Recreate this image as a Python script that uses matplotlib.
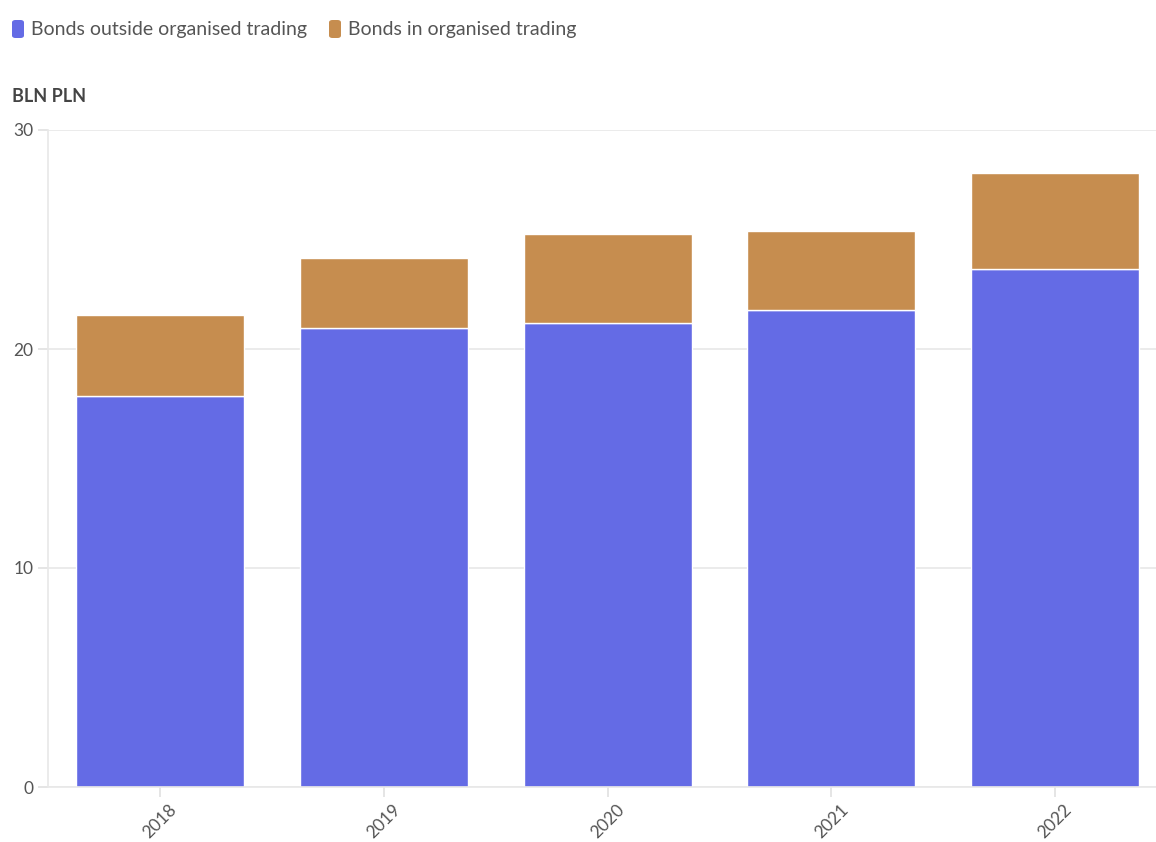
import matplotlib.pyplot as plt
from matplotlib.patches import FancyBboxPatch
import numpy as np

years = ['2018', '2019', '2020', '2021', '2022']
outside = [17.85, 20.95, 21.2, 21.8, 23.65]
organised = [3.7, 3.2, 4.05, 3.6, 4.4]

blue = '#646be5'
brown = '#c68d4f'

plt.rcParams['font.family'] = ['Lato', 'DejaVu Sans']

fig = plt.figure(figsize=(11.56, 8.42), dpi=100)
ax = fig.add_axes([48 / 1156, 55 / 842, 1108 / 1156, 657 / 842])

x = np.arange(len(years))
ax.bar(x, outside, width=0.75, color=blue, edgecolor='white', linewidth=1)
ax.bar(x, organised, bottom=outside, width=0.75, color=brown, edgecolor='white', linewidth=1)

ax.set_ylim(0, 30)
ax.set_xlim(-0.5, 4.45)
ax.set_yticks([0, 10, 20, 30])
ax.set_xticks(x)
ax.set_xticklabels(years, rotation=45)
ax.grid(axis='y', color='#e8e8e8', linewidth=1.2)
ax.set_axisbelow(True)
for s in ['top', 'right']:
    ax.spines[s].set_visible(False)
ax.spines['left'].set_color('#e8e8e8')
ax.spines['bottom'].set_color('#e8e8e8')
ax.spines['left'].set_linewidth(1.2)
ax.spines['bottom'].set_linewidth(1.2)
ax.tick_params(axis='both', colors='#e0e0e0', labelcolor='#555555', labelsize=12.5, length=7, width=1.2)

fig.text(12 / 1156, 1 - 97 / 842, 'BLN PLN', fontsize=13, fontweight='bold', color='#444444', va='center')

# legend drawn by hand: rounded swatches and labels
W, H = 1156, 842
legend_items = [('Bonds outside organised trading', blue, 12),
                ('Bonds in organised trading', brown, 329)]
for label, col, px in legend_items:
    sw = FancyBboxPatch((px / W, 1 - 38 / H), 12 / W, 18 / H, boxstyle='round,pad=0,rounding_size=0.003',
                        transform=fig.transFigure, facecolor=col, edgecolor='none')
    fig.patches.append(sw)
    fig.text((px + 19) / W, 1 - 29 / H, label, fontsize=14, color='#555555', va='center')

fig.savefig('out.png', dpi=100)
